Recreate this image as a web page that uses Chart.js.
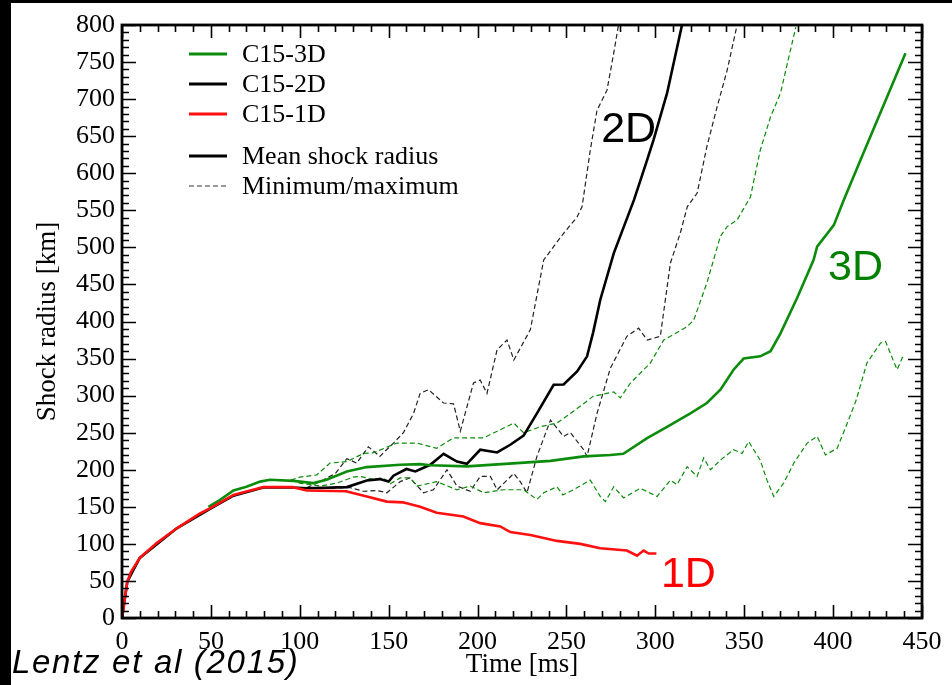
<!DOCTYPE html>
<html>
<head>
<meta charset="utf-8">
<script src="https://cdn.jsdelivr.net/npm/chart.js@4.4.0/dist/chart.umd.min.js"></script>
<style>
  html, body { margin: 0; padding: 0; background: #fff; }
  #wrap { position: relative; width: 952px; height: 685px; overflow: hidden; }
  .barra { position: absolute; background: #000; }
  #cita { position: absolute; left: 12px; top: 643px; font: italic 33px "Liberation Sans", sans-serif; letter-spacing: 1.7px; color: #000; white-space: nowrap; }
</style>
</head>
<body>
<div id="wrap">
  <canvas id="graficoShock"></canvas>
  <div class="barra" style="left:0;top:0;width:952px;height:3px"></div>
  <div class="barra" style="left:0;top:0;width:11px;height:685px"></div>
  <div id="cita">Lentz et al (2015)</div>
</div>
<script>
// C15-1D (mean)
const t1D = [0, 0.7, 1.5, 3, 5, 10, 19.5, 30.8, 43.9, 49.5, 62.7, 70, 79.5, 96, 104, 126, 137.7, 149, 158, 167.7, 177, 192, 201.5, 212.8, 218.4, 229.7, 244.7, 257.8, 269, 284, 289.7, 293.4, 296.3, 300.6];
const r1D = [0, 10, 25, 49, 62, 81, 101, 121, 141, 148, 166, 170.7, 176.5, 176.5, 172, 171, 164, 157, 156, 150, 142, 137, 128, 123.5, 116, 112, 104, 100, 94, 91, 84, 91, 87, 87];

// C15-2D mean / min / max
const t2D = [0, 3, 10, 30.8, 50, 62.7, 79.5, 96, 104, 126.5, 137.7, 145, 150, 152.7, 160, 165, 173.4, 180.9, 188.4, 194, 201.5, 211, 218.4, 225.9, 233.4, 242.8, 248.4, 256, 261.6, 265, 269, 276.6, 288, 295.4, 299, 306.6, 315];
const r2D = [0, 49, 81, 121, 148, 165, 176, 176, 175, 176.6, 185.5, 187.4, 184, 192, 201, 197.7, 206.7, 221.5, 211, 208, 227, 223.3, 233.7, 246, 276, 314.6, 315, 332.5, 353, 385, 429, 492, 564, 618, 645, 708, 800];
const t2Dmax = [104, 111.5, 120, 126.5, 132, 138.6, 145, 152.7, 158.3, 164, 167.7, 172.4, 180.9, 186.5, 190.3, 197.7, 201.5, 205.3, 211, 216.6, 220.4, 229.7, 237.2, 248.4, 256, 258.8, 263.4, 267.2, 272.8, 276.6, 279.4];
const r2Dmax = [176, 184, 195, 215, 209, 231, 218, 236, 250, 276, 303, 308, 290, 289, 252, 317, 321, 303, 362, 375, 348, 389, 483, 519, 541, 555, 631, 685, 712, 762, 802];
const t2Dmin = [104, 116, 128, 135.8, 143.4, 149, 156.5, 162, 169.6, 175.2, 182.8, 188.4, 195.9, 201.5, 207.2, 211, 220.4, 224, 227.8, 233.4, 241, 248.4, 252.2, 259.7, 261.6, 267.2, 274.7, 284, 290.6, 295.4, 302.8, 308.5, 314, 318, 323.5, 329, 334.8, 340.4, 346];
const r2Dmin = [176, 175, 176, 171, 172, 169, 184, 189, 169, 173, 200, 178, 171, 191, 191, 173, 195, 184, 169, 218, 267, 245, 250, 227, 218, 276, 337, 380, 391, 375, 380, 479, 519, 555, 573, 636, 690, 739, 800];

// C15-3D mean / min / max
const t3D = [48.6, 55, 62.7, 70, 77.7, 83.3, 96.4, 107.7, 115, 126.5, 137.7, 156.5, 167.7, 173.4, 194, 222, 241, 259.7, 274.7, 282, 295.4, 306.6, 319.7, 329, 336.6, 344, 349.7, 359, 364.8, 370.4, 379.8, 389, 391, 400.4, 406, 415.4, 440.7];
const r3D = [150, 159, 172, 177, 184, 186.5, 185, 182, 186.5, 197.7, 203.6, 206.7, 207.6, 206, 204.5, 209, 212, 218, 220, 221.5, 242.7, 258, 276, 290, 308, 335, 350, 353, 360, 384, 432, 483, 501, 530, 564, 618, 762];
const t3Dmax = [95, 100, 109.6, 117, 126.5, 135.8, 141.5, 154.6, 165.9, 177, 186.5, 203.4, 220.4, 225.9, 235.3, 244.7, 254, 265, 276.6, 280.3, 286, 297.2, 304.7, 317.9, 321.6, 329, 336.6, 340.4, 346, 353.5, 359, 364.8, 370.4, 376, 379];
const r3Dmax = [186, 190, 193, 209, 211, 222, 223, 236, 236, 229, 243, 243, 263, 250, 258, 263, 279, 299, 305, 297, 317, 344, 375, 393, 402, 452, 515, 528, 537, 568, 631, 676, 708, 766, 797];
const t3Dmin = [95, 100, 111.5, 120.9, 130, 134, 141.5, 147, 150.9, 156.5, 162, 165.9, 177, 188.4, 195.9, 203.4, 214.6, 225.9, 233.4, 237.2, 244.7, 248, 254, 263.4, 269, 271.9, 276.6, 282.2, 291.6, 301, 308.5, 312.2, 317.9, 323.5, 327.2, 331, 336.6, 344, 348.8, 352.5, 359, 362.8, 366.6, 372.2, 377.9, 385.4, 391, 395.7, 402.3, 408, 413, 419, 426.7, 429.5, 436, 438.9, 440.7];
const r3Dmin = [186, 182, 178, 182, 190, 191, 187, 189, 181, 189, 189, 178, 184, 173, 178, 169, 173, 173, 160, 169, 177, 166, 173, 186, 164, 157, 177, 162, 175, 164, 186, 180, 204, 191, 216, 200, 213, 227, 222, 238, 213, 186, 164, 182, 209, 236, 245, 220, 229, 263, 294, 344, 371, 373, 335, 351, 353];

// ejes
const xTicks = [0, 50, 100, 150, 200, 250, 300, 350, 400, 450];
const yTicks = [0, 50, 100, 150, 200, 250, 300, 350, 400, 450, 500, 550, 600, 650, 700, 750, 800];

// etiquetas dentro del grafico
const etiquetas = [
  { texto: "2D", x: 285, y: 658, color: "#000000" },
  { texto: "3D", x: 412.6, y: 472, color: "#008000" },
  { texto: "1D", x: 318.6, y: 58, color: "#ff0000" }
];
const leyenda = [
  { texto: "C15-3D", color: "#0c8c0c", dash: [] , ancho: 3 },
  { texto: "C15-2D", color: "#000000", dash: [], ancho: 3 },
  { texto: "C15-1D", color: "#ff1010", dash: [], ancho: 3 },
  { texto: "Mean shock radius", color: "#000000", dash: [], ancho: 3 },
  { texto: "Minimum/maximum", color: "#333333", dash: [5, 3], ancho: 1.2 }
];

const VERDE = "#0c8c0c";
const ROJO = "#ff1010";
const SERIF = "Liberation Serif";

Chart.defaults.font.family = SERIF;
Chart.defaults.font.size = 26;
Chart.defaults.color = "#000";

function puntos(ts, rs) {
  return ts.map((t, i) => ({ x: t, y: rs[i] }));
}

function serie(label, ts, rs, color, dashed, order) {
  return {
    label: label,
    data: puntos(ts, rs),
    borderColor: color,
    borderWidth: dashed ? 1.2 : 2.6,
    borderDash: dashed ? [5, 3] : [],
    pointRadius: 0,
    tension: 0,
    fill: false,
    order: order
  };
}

// marco, ticks hacia dentro, leyenda y etiquetas
const decoracion = {
  id: "decoracion",
  afterDatasetsDraw(chart) {
    const { ctx, chartArea: a, scales: { x, y } } = chart;
    ctx.save();
    ctx.strokeStyle = "#000";
    ctx.lineWidth = 1.6;
    ctx.beginPath();
    for (let v = 0; v <= 450; v += 10) {
      const px = Math.round(x.getPixelForValue(v)) + 0.5;
      const len = v % 50 === 0 ? 13 : 7;
      ctx.moveTo(px, a.bottom); ctx.lineTo(px, a.bottom - len);
      ctx.moveTo(px, a.top); ctx.lineTo(px, a.top + len);
    }
    for (let v = 0; v <= 800; v += 10) {
      const py = Math.round(y.getPixelForValue(v)) + 0.5;
      const len = v % 50 === 0 ? 14 : 7;
      ctx.moveTo(a.left, py); ctx.lineTo(a.left + len, py);
      ctx.moveTo(a.right, py); ctx.lineTo(a.right - len, py);
    }
    ctx.stroke();
    ctx.lineWidth = 2.8;
    ctx.strokeRect(a.left, a.top, a.right - a.left, a.bottom - a.top);

    // etiquetas 1D / 2D / 3D
    ctx.font = "43px 'Liberation Sans', sans-serif";
    ctx.textAlign = "center";
    ctx.textBaseline = "middle";
    etiquetas.forEach(e => {
      ctx.fillStyle = e.color;
      ctx.fillText(e.texto, x.getPixelForValue(e.x), y.getPixelForValue(e.y));
    });

    // leyenda
    const filas = [54, 84, 114, 156, 186];
    ctx.font = "26px 'Liberation Serif', serif";
    ctx.textAlign = "left";
    leyenda.forEach((item, i) => {
      ctx.beginPath();
      ctx.strokeStyle = item.color;
      ctx.lineWidth = item.ancho;
      ctx.setLineDash(item.dash);
      ctx.moveTo(189, filas[i]);
      ctx.lineTo(227, filas[i]);
      ctx.stroke();
      ctx.setLineDash([]);
      ctx.fillStyle = "#000";
      ctx.fillText(item.texto, 242, filas[i] + 1);
    });
    ctx.restore();
  }
};

const ctx = document.getElementById("graficoShock").getContext("2d");
new Chart(ctx, {
  type: "line",
  data: {
    datasets: [
      serie("C15-1D", t1D, r1D, ROJO, false, 0),
      serie("C15-3D", t3D, r3D, VERDE, false, 1),
      serie("C15-2D", t2D, r2D, "#000000", false, 2),
      serie("C15-3D max", t3Dmax, r3Dmax, VERDE, true, 3),
      serie("C15-3D min", t3Dmin, r3Dmin, VERDE, true, 4),
      serie("C15-2D max", t2Dmax, r2Dmax, "#222222", true, 5),
      serie("C15-2D min", t2Dmin, r2Dmin, "#222222", true, 6)
    ]
  },
  options: {
    responsive: true,
    maintainAspectRatio: false,
    animation: false,
    layout: { padding: { top: 25, right: 30, left: 0, bottom: 0 } },
    plugins: { legend: { display: false }, tooltip: { enabled: false } },
    scales: {
      x: {
        type: "linear",
        min: 0,
        max: 450,
        afterBuildTicks: s => { s.ticks = xTicks.map(v => ({ value: v })); },
        afterFit: s => { s.height = 67; },
        grid: { display: false, drawTicks: false },
        border: { display: false },
        ticks: { color: "#000", font: { family: SERIF, size: 26 }, padding: 9, maxRotation: 0, autoSkip: false },
        title: { display: true, text: "Time [ms]", color: "#000", font: { family: SERIF, size: 27 }, padding: { top: 0, bottom: 4 } }
      },
      y: {
        type: "linear",
        min: 0,
        max: 800,
        afterBuildTicks: s => { s.ticks = yTicks.map(v => ({ value: v })); },
        afterFit: s => { s.width = 122; },
        grid: { display: false, drawTicks: false },
        border: { display: false },
        ticks: { color: "#000", font: { family: SERIF, size: 26 }, padding: 7, autoSkip: false },
        title: { display: true, text: "Shock radius [km]", color: "#000", font: { family: SERIF, size: 27 }, padding: { top: 32, bottom: 0 } }
      }
    }
  },
  plugins: [decoracion]
});
</script>
</body>
</html>
